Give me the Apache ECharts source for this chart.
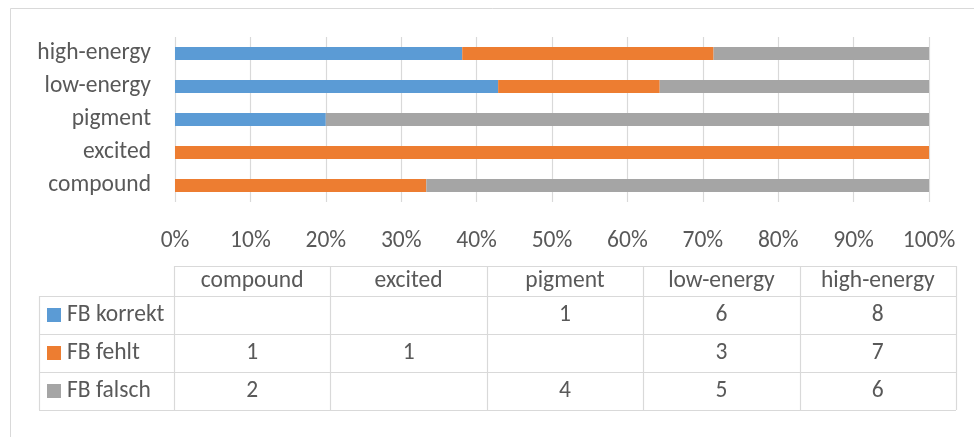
<!DOCTYPE html>
<html>
<head>
<meta charset="utf-8">
<script src="https://cdn.jsdelivr.net/npm/echarts@6/dist/echarts.min.js"></script>
<style>
  html, body { margin: 0; padding: 0; background: #fff; }
  #chart { width: 974px; height: 437px; }
</style>
</head>
<body>
<div id="chart"></div>
<script>
// Categories, bottom to top on the chart, left to right in the table
const categories = ['compound', 'excited', 'pigment', 'low-energy', 'high-energy'];
const seriesNames = ['FB korrekt', 'FB fehlt', 'FB falsch'];
// Counts per category (null = empty cell)
const fbKorrekt = [null, null, 1, 6, 8];
const fbFehlt = [1, 1, null, 3, 7];
const fbFalsch = [2, null, 4, 5, 6];
const seriesColors = ['#5B9BD5', '#ED7D31', '#A5A5A5'];

const counts = [fbKorrekt, fbFehlt, fbFalsch];
const totals = categories.map((_, i) => counts.reduce((s, arr) => s + (arr[i] || 0), 0));
const percent = arr => arr.map((v, i) => v == null ? null : v / totals[i] * 100);

const FONT = 'Calibri, Carlito, Lato, sans-serif';
const FONT_SIZE = 23.5;
const TEXT = '#595959';
const LINE = '#d9d9d9';

// Data table geometry
const tbl = {
  left: 39, colStart: 174, right: 956,
  headerTop: 266, headerH: 30, rowH: 38
};
const colW = (tbl.right - tbl.colStart) / categories.length;
const bodyTop = tbl.headerTop + tbl.headerH;
const bottom = bodyTop + tbl.rowH * seriesNames.length;

const graphics = [];
// chart frame
graphics.push({ type: 'rect', shape: { x: 10.5, y: 8.5, width: 1000, height: 1000 },
  style: { fill: 'none', stroke: LINE, lineWidth: 1 }, silent: true });

function hLine(x1, x2, y) {
  graphics.push({ type: 'line', shape: { x1: x1, y1: y + 0.5, x2: x2, y2: y + 0.5 },
    style: { stroke: LINE, lineWidth: 1.2 }, silent: true });
}
function vLine(x, y1, y2) {
  graphics.push({ type: 'line', shape: { x1: x + 0.5, y1: y1, x2: x + 0.5, y2: y2 },
    style: { stroke: LINE, lineWidth: 1.2 }, silent: true });
}
function cellText(txt, x, y, align) {
  graphics.push({ type: 'text', x: x, y: y, silent: true,
    style: { text: txt, fill: TEXT, font: FONT_SIZE + 'px ' + FONT, align: align || 'center', verticalAlign: 'middle' } });
}

hLine(tbl.colStart, tbl.right, tbl.headerTop);
for (let r = 0; r <= seriesNames.length; r++) hLine(tbl.left, tbl.right, bodyTop + r * tbl.rowH);
vLine(tbl.left, bodyTop, bottom);
for (let c = 0; c <= categories.length; c++) {
  vLine(Math.round(tbl.colStart + c * colW), tbl.headerTop, bottom);
}
categories.forEach((cat, c) => {
  cellText(cat, tbl.colStart + (c + 0.5) * colW, tbl.headerTop + tbl.headerH / 2);
});
seriesNames.forEach((name, r) => {
  const cy = bodyTop + (r + 0.5) * tbl.rowH;
  graphics.push({ type: 'rect', shape: { x: 47, y: cy - 7, width: 14, height: 14 },
    style: { fill: seriesColors[r] }, silent: true });
  cellText(name, 67, cy, 'left');
  counts[r].forEach((v, c) => {
    if (v != null) cellText(String(v), tbl.colStart + (c + 0.5) * colW, cy);
  });
});

const chart = echarts.init(document.getElementById('chart'), null, { renderer: 'canvas' });
chart.setOption({
  animation: false,
  backgroundColor: '#fff',
  textStyle: { fontFamily: FONT },
  grid: { left: 175, right: 45, top: 37, height: 165, containLabel: false },
  xAxis: {
    type: 'value', min: 0, max: 100, interval: 10,
    axisLine: { show: false }, axisTick: { show: false },
    splitLine: { show: true, lineStyle: { color: LINE, width: 1.2 } },
    axisLabel: { formatter: '{value}%', color: TEXT, fontSize: FONT_SIZE, fontFamily: FONT, margin: 27 }
  },
  yAxis: {
    type: 'category', data: categories,
    axisLine: { show: false }, axisTick: { show: false },
    axisLabel: { color: TEXT, fontSize: FONT_SIZE, fontFamily: FONT, margin: 24 }
  },
  series: seriesNames.map((name, k) => ({
    name: name, type: 'bar', stack: 'total', barWidth: 13,
    itemStyle: { color: seriesColors[k] },
    data: percent(counts[k])
  })),
  graphic: { elements: graphics }
});
</script>
</body>
</html>
